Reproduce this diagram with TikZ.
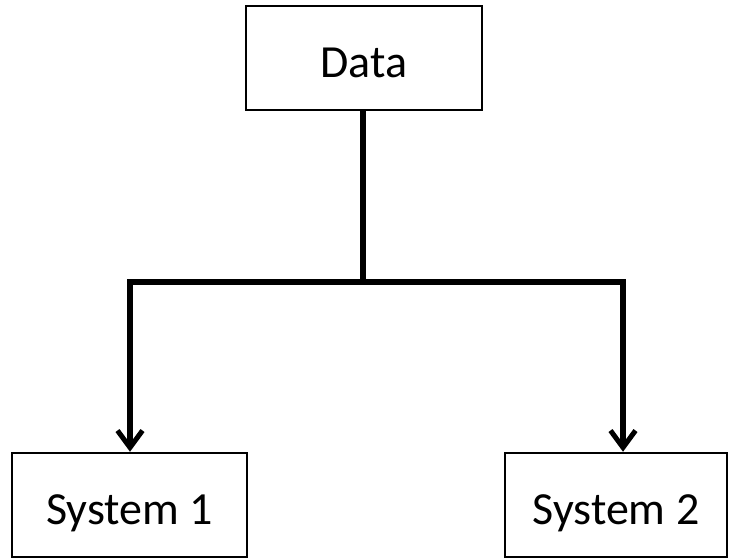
\documentclass[tikz,border=0pt]{standalone}
\usepackage{fontspec}
\setmainfont{Carlito}
\usetikzlibrary{arrows.meta}
\begin{document}
\begin{tikzpicture}[x=1pt,y=-1pt,
  box/.style={draw=black,line width=2.5pt,inner sep=0pt,
    text height=39pt,text depth=0pt,font=\fontsize{46}{52}\selectfont},
  link/.style={line width=5.5pt,line join=miter},
  barb/.tip={Straight Barb[length=17pt,width=25pt,line width=5pt]},
  tips/.style={barb-barb}]
  \useasboundingbox (0,0) rectangle (730,558);
  \node[box,minimum width=236pt,minimum height=104pt] (data) at (364,58) {Data};
  \node[box,minimum width=235pt,minimum height=104pt] (sys1) at (129.5,505) {System 1};
  \node[box,minimum width=222pt,minimum height=104pt] (sys2) at (616,505) {System 2};
  \coordinate (j) at (363,282);
  \coordinate (jl) at (130,282);
  \coordinate (jr) at (623,282);
  % trunk from the data box down to the junction
  \draw[link] (data.south -| j) -- (j);
  % branch: one path from system 1 across to system 2, arrowheads at both ends
  \draw[link,tips] (jl |- sys1.north) -- (jl) -- (jr) -- (jr |- sys2.north);
\end{tikzpicture}
\end{document}
